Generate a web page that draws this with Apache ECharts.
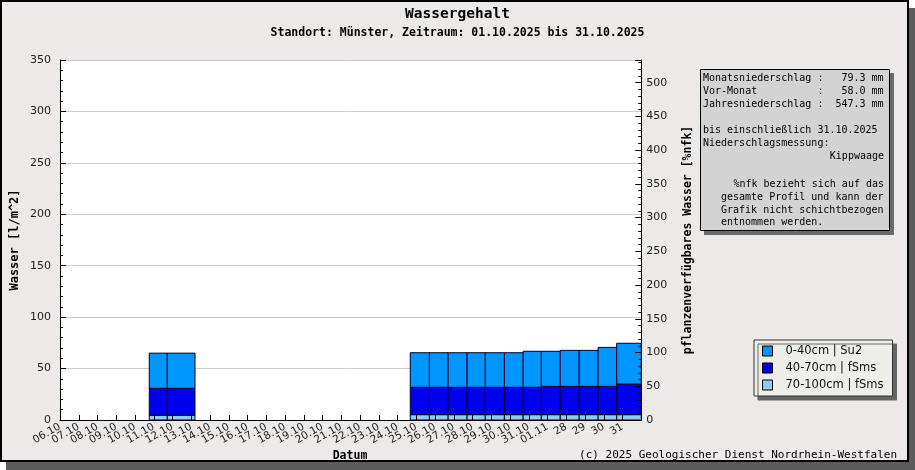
<!DOCTYPE html>
<html>
<head>
<meta charset="utf-8">
<script src="https://cdn.jsdelivr.net/npm/echarts@6/dist/echarts.min.js"></script>
<style>
html,body{margin:0;padding:0;background:#fff;}
#frame{position:absolute;left:0;top:0;width:909px;height:462px;box-sizing:border-box;border:2px solid #000;background:#ECE9E8;box-shadow:6px 8px 0 #5c5c5c;}
#chart{position:absolute;left:0;top:0;width:915px;height:470px;}
</style>
</head>
<body>
<div id="frame"></div>
<div id="chart"></div>
<script>
// ---- data ----
const xLabels = ['06.10','07.10','08.10','09.10','10.10','11.10','12.10','13.10','14.10','15.10',
  '16.10','17.10','18.10','19.10','20.10','21.10','22.10','23.10','24.10','25.10',
  '26.10','27.10','28.10','29.10','30.10','31.10','01.11','28','29','30','31'];
// bar spans along the x axis (axis units)
const barStart = [4.76, 5.72, 18.68, 19.7, 20.7, 21.71, 22.68, 23.7, 24.7, 25.67, 26.68, 27.69, 28.7, 29.69];
const barEnd   = [5.72, 7.2, 19.7, 20.7, 21.71, 22.68, 23.7, 24.7, 25.67, 26.68, 27.69, 28.7, 29.69, 31];
// layer values [l/m^2]
const layer70_100 = [4.7, 4.7, 5.2, 5.2, 5.2, 5.2, 5.2, 5.2, 5.2, 5.2, 5.2, 5.2, 5.2, 5.2];
const layer40_70  = [26.1, 26.1, 26.6, 26.6, 26.6, 26.6, 26.6, 26.6, 26.6, 27.5, 27.5, 27.5, 27.5, 29.8];
const layer0_40   = [34.2, 34.2, 33.6, 33.6, 33.6, 33.6, 33.6, 33.6, 35.0, 34.1, 35.0, 35.0, 37.9, 39.6];
const seriesNames = ['0-40cm | Su2', '40-70cm | fSms', '70-100cm | fSms'];
const seriesColors = ['#0096ff', '#0000ee', '#8dcdf0'];
const infoLines = [
  'Monatsniederschlag :   79.3 mm',
  'Vor-Monat          :   58.0 mm',
  'Jahresniederschlag :  547.3 mm',
  '',
  'bis einschließlich 31.10.2025',
  'Niederschlagsmessung:'
];
const infoRight = ['Kippwaage'];
const infoNote1 = '%nfk bezieht sich auf das';
const infoNote = ['gesamte Profil und kann der', 'Grafik nicht schichtbezogen', 'entnommen werden.'];

// ---- build ----
const base2 = layer70_100.slice();
const base1 = layer70_100.map((v, i) => v + layer40_70[i]);
const zero = layer70_100.map(() => 0);

function layerSeries(name, color, base, vals) {
  return {
    type: 'custom', name: name, xAxisIndex: 0, yAxisIndex: 0,
    itemStyle: { color: color, borderColor: '#000', borderWidth: 1 },
    encode: { x: [0, 1], y: [2, 3] },
    data: barStart.map((s, i) => [s, barEnd[i], base[i], base[i] + vals[i]]),
    renderItem: function (params, api) {
      const p0 = api.coord([api.value(0), api.value(3)]);
      const p1 = api.coord([api.value(1), api.value(2)]);
      return {
        type: 'rect',
        shape: { x: p0[0], y: p0[1], width: p1[0] - p0[0], height: p1[1] - p0[1] },
        style: { fill: color, stroke: '#000028', lineWidth: 1 }
      };
    }
  };
}

const mono = 'DejaVu Sans Mono';
const graphics = [
  { type: 'text', left: 'center', top: 7, style: { text: 'Wassergehalt', font: 'bold 14.5px "' + mono + '"', fill: '#000' } },
  { type: 'text', left: 'center', top: 27, style: { text: 'Standort: Münster, Zeitraum: 01.10.2025 bis 31.10.2025', font: 'bold 11.5px "' + mono + '"', fill: '#000' } },
  { type: 'text', x: 15, y: 240, rotation: Math.PI / 2, style: { text: 'Wasser [l/m^2]', font: 'bold 12px "' + mono + '"', fill: '#000', align: 'center', verticalAlign: 'middle' } },
  { type: 'text', x: 688, y: 240, rotation: Math.PI / 2, style: { text: 'pflanzenverfügbares Wasser [%nfk]', font: 'bold 11.5px "' + mono + '"', fill: '#000', align: 'center', verticalAlign: 'middle' } },
  { type: 'text', x: 350, y: 456, style: { text: 'Datum', font: 'bold 11.5px "' + mono + '"', fill: '#000', align: 'center', verticalAlign: 'middle' } },
  { type: 'text', x: 897, y: 455, style: { text: '(c) 2025 Geologischer Dienst Nordrhein-Westfalen', font: '11px "' + mono + '"', fill: '#000', align: 'right', verticalAlign: 'middle' } },
  { type: 'rect', shape: { x: 704, y: 73, width: 190, height: 162 }, style: { fill: '#6a6a6a' }, z: 1 },
  { type: 'rect', shape: { x: 700.5, y: 69.5, width: 189, height: 161 }, style: { fill: '#d3d3d3', stroke: '#000', lineWidth: 1 }, z: 2 }
];
infoLines.forEach((t, i) => {
  graphics.push({ type: 'text', x: 703, y: 78.5 + i * 13, z: 3, style: { text: t, font: '10px "' + mono + '"', fill: '#000', verticalAlign: 'middle' } });
});
infoRight.forEach((t, i) => {
  graphics.push({ type: 'text', x: 884, y: 78.5 + (6 + i) * 13, z: 3, style: { text: t, font: '10px "' + mono + '"', fill: '#000', align: 'right', verticalAlign: 'middle' } });
});
graphics.push({ type: 'text', x: 884, y: 184.5, z: 3, style: { text: infoNote1, font: '10px "' + mono + '"', fill: '#000', align: 'right', verticalAlign: 'middle' } });
infoNote.forEach((t, i) => {
  graphics.push({ type: 'text', x: 721, y: 197.5 + i * 12.5, z: 3, style: { text: t, font: '10px "' + mono + '"', fill: '#000', verticalAlign: 'middle' } });
});

// label axes: even and odd labels on two overlaid axes so none is dropped
function labelAxis(parity, showLine) {
  return {
    type: 'value', min: 0, max: 31, interval: 1, z: 5, position: 'bottom', gridIndex: 0,
    axisLine: { show: showLine, lineStyle: { color: '#000', width: 1 } },
    axisTick: { show: showLine, inside: true, length: 5, lineStyle: { color: '#000' } },
    axisLabel: {
      rotate: 30, margin: 6, fontSize: 10.5, color: '#222', fontFamily: 'DejaVu Sans',
      showMinLabel: true, showMaxLabel: true, hideOverlap: false,
      formatter: function (v) {
        const k = Math.round(v);
        return (k % 2 === parity) ? (xLabels[k] || '') : '';
      }
    },
    splitLine: { show: false }
  };
}

const chart = echarts.init(document.getElementById('chart'), null, { renderer: 'canvas' });
chart.setOption({
  animation: false,
  backgroundColor: 'transparent',
  grid: { left: 60, top: 60, width: 581.25, height: 360, show: true, backgroundColor: '#ffffff', borderWidth: 0 },
  xAxis: [labelAxis(0, true), labelAxis(1, false)],
  yAxis: [
    {
      type: 'value', min: 0, max: 350, interval: 50, position: 'left',
      axisLine: { show: true, lineStyle: { color: '#000' } },
      axisTick: { show: true, inside: true, length: 6, lineStyle: { color: '#000' } },
      minorTick: { show: true, splitNumber: 5, length: 3, lineStyle: { color: '#000' } },
      axisLabel: { margin: 9, fontSize: 11, color: '#222', fontFamily: 'DejaVu Sans' },
      splitLine: { show: true, lineStyle: { color: '#cccccc', width: 1 } }
    },
    {
      type: 'value', min: 0, max: 533.6, interval: 50, position: 'right', z: 5,
      axisLine: { show: true, onZero: false, lineStyle: { color: '#000' } },
      axisTick: { show: true, inside: true, length: 6, lineStyle: { color: '#000' } },
      minorTick: { show: true, splitNumber: 5, length: 3, lineStyle: { color: '#000' } },
      axisLabel: { margin: 5, fontSize: 11, color: '#222', fontFamily: 'DejaVu Sans', showMaxLabel: false },
      splitLine: { show: false }
    }
  ],
  legend: {
    orient: 'vertical', left: 754, top: 340,
    data: seriesNames.map((n, i) => ({ name: n, icon: 'rect', itemStyle: { color: seriesColors[i], borderColor: '#000', borderWidth: 1 } })),
    itemWidth: 10, itemHeight: 10, itemGap: 5,
    padding: [5, 9, 5, 8],
    backgroundColor: '#eeeee8', borderColor: '#333', borderWidth: 1,
    shadowColor: '#666', shadowBlur: 0, shadowOffsetX: 4, shadowOffsetY: 4,
    textStyle: { fontFamily: 'DejaVu Sans', fontSize: 11.5, color: '#111', padding: [0, 0, 0, 8] }
  },
  graphic: graphics,
  series: [
    layerSeries(seriesNames[2], seriesColors[2], zero, layer70_100),
    layerSeries(seriesNames[1], seriesColors[1], base2, layer40_70),
    layerSeries(seriesNames[0], seriesColors[0], base1, layer0_40)
  ]
});
</script>
</body>
</html>
